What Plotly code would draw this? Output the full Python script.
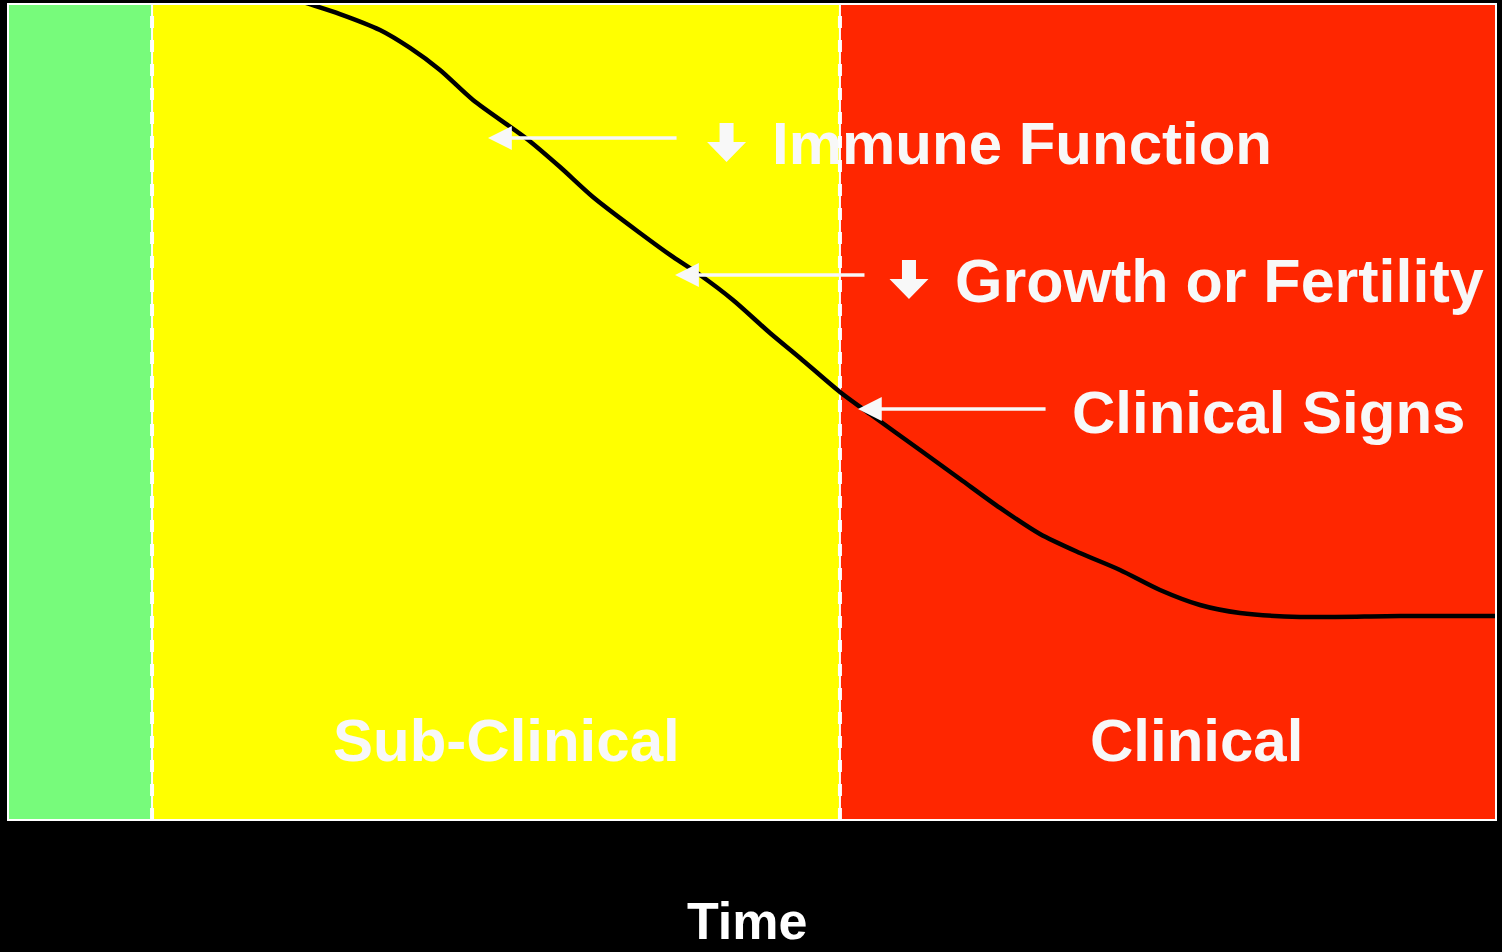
import plotly.graph_objects as go

# ---- data (time on x: 0-100, level on y: 0-100) ----
curve_time = [18.28, 19.62, 22.31, 25.0, 27.02, 29.03, 31.25, 34.88, 37.10, 39.31,
              42.47, 44.69, 46.51, 48.72, 51.21, 53.23, 55.91, 57.93, 61.29, 63.98,
              66.67, 69.35, 72.04, 74.73, 77.42, 80.11, 82.80, 86.83, 93.55, 100.0]
curve_level = [101.23, 100.37, 98.77, 96.81, 94.61, 91.91, 88.24, 83.46, 80.02, 76.35,
               71.94, 69.0, 66.79, 63.73, 59.68, 56.62, 52.45, 49.75, 45.34, 41.79,
               38.24, 35.05, 32.72, 30.64, 28.19, 26.35, 25.37, 24.88, 25.0, 25.0]

phase_bounds = [0, 9.68, 55.91, 100]
phase_colors = ["#77FB7B", "#FFFF00", "#FF2600"]
phase_labels = ["", "Sub-Clinical", "Clinical"]
phase_label_x = [None, 33.47, 79.9]
phase_label_y = 9.8

effect_labels = ["Immune Function", "Growth or Fertility", "Clinical Signs"]
effect_has_down = [True, True, False]
effect_head_x = [32.26, 44.83, 57.12]
effect_tail_x = [45.03, 57.66, 69.83]
effect_y = [83.58, 66.79, 50.37]
effect_down_x = [48.29, 60.55, None]
effect_down_top = [85.42, 68.63, None]
effect_text_x = [51.21, 63.51, 71.37]
effect_text_y = [82.9, 66.1, 49.9]
effect_font = [60, 61, 60]

FONT = "Liberation Sans, Arial, sans-serif"
WHITE = "#F8F8F8"

fig = go.Figure()
fig.add_trace(go.Scatter(
    x=curve_time, y=curve_level, mode="lines",
    line=dict(color="black", width=4.5, shape="spline", smoothing=0.8),
    hoverinfo="skip", showlegend=False))

shapes = []
for i, c in enumerate(phase_colors):
    shapes.append(dict(type="rect", xref="x", yref="paper",
                       x0=phase_bounds[i], x1=phase_bounds[i + 1], y0=0, y1=1,
                       fillcolor=c, line=dict(width=0), layer="below"))
for b in phase_bounds[1:-1]:
    shapes.append(dict(type="line", xref="x", yref="paper", x0=b, x1=b, y0=0, y1=1,
                       line=dict(color="white", width=2), layer="below"))
    shapes.append(dict(type="line", xref="x", yref="paper", x0=b, x1=b, y0=0, y1=1,
                       line=dict(color="white", width=4, dash="dash"), layer="below"))
shapes.append(dict(type="rect", xref="paper", yref="paper", x0=0, x1=1, y0=0, y1=1,
                   line=dict(color="white", width=2), fillcolor="rgba(0,0,0,0)"))

# block "down" arrow glyph (pixel-sized, anchored next to its label)
DOWN_ARROW = "M -7 0 L 7 0 L 7 -19 L 19.5 -19 L 0 -39 L -19.5 -19 L -7 -19 Z"
for i in range(len(effect_labels)):
    if effect_has_down[i]:
        shapes.append(dict(type="path", xref="x", yref="y",
                           xsizemode="pixel", ysizemode="pixel",
                           xanchor=effect_down_x[i], yanchor=effect_down_top[i],
                           path=DOWN_ARROW, fillcolor=WHITE, line=dict(width=0)))

annotations = []
for i, lab in enumerate(phase_labels):
    if lab:
        annotations.append(dict(
            x=phase_label_x[i], y=phase_label_y, xref="x", yref="y",
            text="<b>%s</b>" % lab, showarrow=False,
            font=dict(family=FONT, size=60, color=WHITE), xanchor="center", yanchor="middle"))

for i, lab in enumerate(effect_labels):
    annotations.append(dict(
        x=effect_head_x[i], y=effect_y[i], ax=effect_tail_x[i], ay=effect_y[i],
        xref="x", yref="y", axref="x", ayref="y", text="", showarrow=True,
        arrowhead=2, arrowsize=1.4, arrowwidth=3.4, arrowcolor=WHITE, standoff=0))
    annotations.append(dict(
        x=effect_text_x[i], y=effect_text_y[i], xref="x", yref="y",
        text="<b>%s</b>" % lab, showarrow=False, xanchor="left", yanchor="middle",
        font=dict(family=FONT, size=effect_font[i], color=WHITE)))

annotations.append(dict(x=0.4966, y=-0.124, xref="paper", yref="paper",
                        text="<b>Time</b>", showarrow=False, xanchor="center", yanchor="middle",
                        font=dict(family=FONT, size=52, color="white")))

fig.update_layout(
    width=1502, height=952,
    margin=dict(l=8, r=6, t=4, b=132),
    paper_bgcolor="black", plot_bgcolor="black",
    xaxis=dict(range=[0, 100], visible=False, fixedrange=True),
    yaxis=dict(range=[0, 100], visible=False, fixedrange=True),
    shapes=shapes, annotations=annotations, showlegend=False)

fig.write_html("out.html", config={"displayModeBar": False},
               post_script="document.body.style.margin='0';document.body.style.background='black';")
